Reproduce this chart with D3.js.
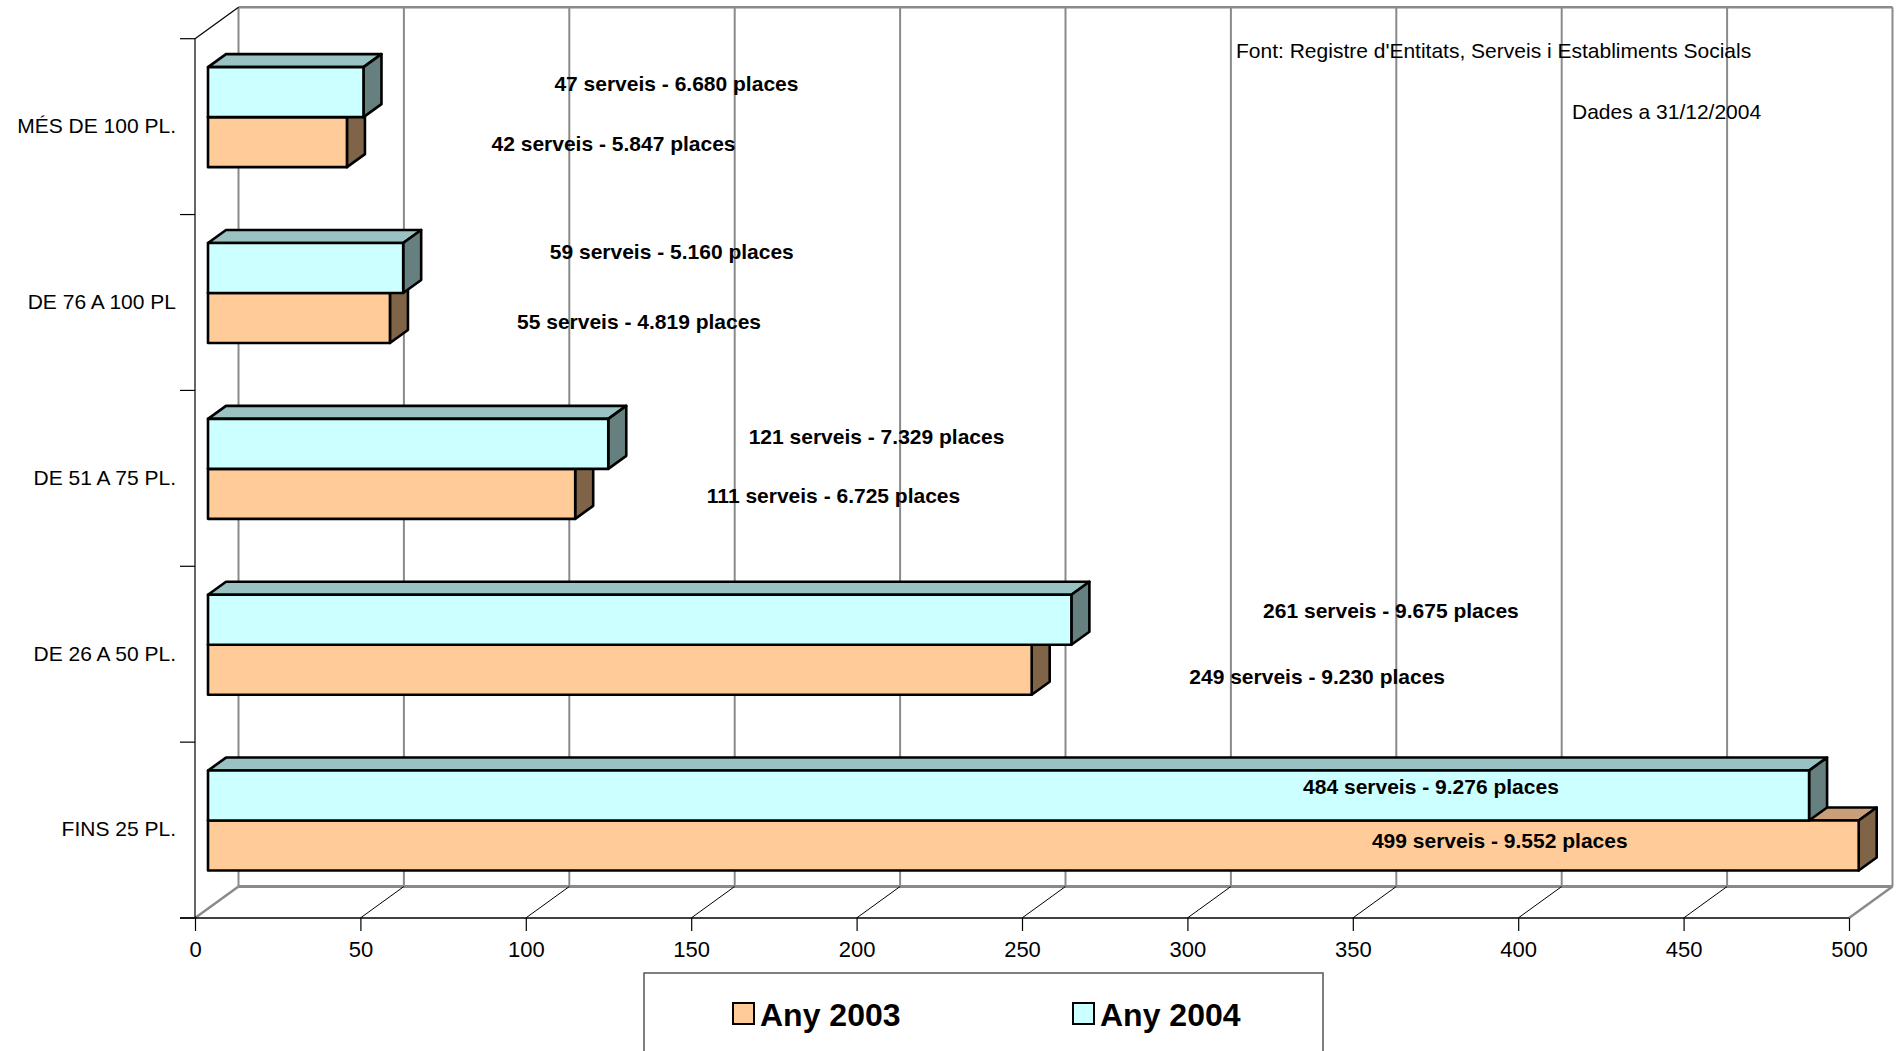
<!DOCTYPE html>
<html>
<head>
<meta charset="utf-8">
<script src="https://cdn.jsdelivr.net/npm/d3@7"></script>
<style>
html,body{margin:0;padding:0;background:#fff;}
svg{display:block;font-family:"Liberation Sans",Arial,sans-serif;}
</style>
</head>
<body>
<svg id="chart" width="1896" height="1051"></svg>
<script>
// ---- data ----
const categories = ["MÉS DE 100 PL.", "DE 76 A 100 PL", "DE 51 A 75 PL.", "DE 26 A 50 PL.", "FINS 25 PL."];
const series = ["Any 2003", "Any 2004"];
const serveis2003 = [42, 55, 111, 249, 499];
const serveis2004 = [47, 59, 121, 261, 484];
const places2003 = ["5.847", "4.819", "6.725", "9.230", "9.552"];
const places2004 = ["6.680", "5.160", "7.329", "9.675", "9.276"];
const xTicks = [0, 50, 100, 150, 200, 250, 300, 350, 400, 450, 500];
const sourceLines = ["Font: Registre d'Entitats, Serveis i Establiments Socials", "Dades a 31/12/2004"];

// label placement (annotation layout, value units along the axis / pixel nudge)
const labelAt2003 = [122.6, 130.3, 189.1, 335.3, 390.5];
const labelAt2004 = [141.6, 140.2, 202.1, 357.6, 369.7];
const labelDy2003 = [2, 3.5, 2, 7.4, -5.3];
const labelDy2004 = [-8.8, -16.6, -7.5, -9.2, -8.5];

// ---- layout ----
const svg = d3.select("#chart");
const x = d3.scaleLinear().domain([0, 500]).range([195, 1849]);
const y = d3.scaleBand().domain(categories).range([38.7, 918]).padding(0);
const D = {dx: 43.5, dy: -31.5};       // wall depth
const B = {dx: 13, dy: -9.5};          // bar front plane offset
const BD = {dx: 18, dy: -13};          // bar depth
const yBottom = 918, yTop = 38.7;
const sub = d3.scaleBand().domain(["Any 2004", "Any 2003"]).range([y.bandwidth()*0.2157, y.bandwidth()*0.7843]);

const col = {
  "Any 2003": {front: "#FFCC99", top: "#C89F78", side: "#806448"},
  "Any 2004": {front: "#CCFFFF", top: "#99C2C2", side: "#668080"}
};

const gray = "#8a8a8a";
// back wall
const wall = svg.append("g");
wall.selectAll("line.grid").data(xTicks).enter().append("line")
  .attr("x1", d => x(d) + D.dx).attr("x2", d => x(d) + D.dx)
  .attr("y1", yTop + D.dy).attr("y2", yBottom + D.dy)
  .attr("stroke", gray).attr("stroke-width", 2);
wall.append("line").attr("x1", x(0) + D.dx).attr("x2", x(500) + D.dx)
  .attr("y1", yTop + D.dy).attr("y2", yTop + D.dy).attr("stroke", gray).attr("stroke-width", 2.5);
wall.append("line").attr("x1", x(0) + D.dx).attr("x2", x(500) + D.dx)
  .attr("y1", yBottom + D.dy).attr("y2", yBottom + D.dy).attr("stroke", gray).attr("stroke-width", 3);
// floor side diagonals
wall.append("line").attr("x1", x(0)).attr("y1", yBottom).attr("x2", x(0) + D.dx).attr("y2", yBottom + D.dy)
  .attr("stroke", gray).attr("stroke-width", 2.5);
wall.append("line").attr("x1", x(500)).attr("y1", yBottom).attr("x2", x(500) + D.dx).attr("y2", yBottom + D.dy)
  .attr("stroke", gray).attr("stroke-width", 2.5);
// floor tick diagonals
wall.selectAll("line.fd").data(xTicks.slice(1, -1)).enter().append("line")
  .attr("x1", d => x(d)).attr("y1", yBottom).attr("x2", d => x(d) + D.dx).attr("y2", yBottom + D.dy)
  .attr("stroke", "#000").attr("stroke-width", 1);
// top-left diagonal
wall.append("line").attr("x1", x(0)).attr("y1", yTop).attr("x2", x(0) + D.dx).attr("y2", yTop + D.dy)
  .attr("stroke", "#000").attr("stroke-width", 1.2);

// front axes
const xAxis = d3.axisBottom(x).tickValues(xTicks).tickSize(13).tickPadding(10).tickFormat(d3.format("d"));
const gx = svg.append("g").attr("transform", `translate(0,${yBottom})`).call(xAxis);
gx.select(".domain").remove();
gx.selectAll(".tick line").attr("stroke", "#000").attr("stroke-width", 1.2);
gx.selectAll(".tick text").attr("font-size", 22).attr("fill", "#000").attr("font-family", "Liberation Sans, Arial, sans-serif");
svg.append("line").attr("x1", x(0) - 15).attr("x2", x(500)).attr("y1", yBottom).attr("y2", yBottom)
  .attr("stroke", "#000").attr("stroke-width", 1.5);

const yAxis = d3.axisLeft(y).tickSize(0).tickPadding(19);
const gy = svg.append("g").attr("transform", `translate(${x(0)},0)`).call(yAxis);
gy.select(".domain").remove();
gy.selectAll(".tick text").attr("font-size", 21).attr("fill", "#000").attr("font-family", "Liberation Sans, Arial, sans-serif").attr("dy", "0.3em");
svg.append("line").attr("x1", x(0)).attr("x2", x(0)).attr("y1", yTop).attr("y2", yBottom)
  .attr("stroke", "#000").attr("stroke-width", 1.2);
const bounds = categories.map(c => y(c)).concat([y(categories[categories.length - 1]) + y.step()]);
svg.selectAll("line.ctick").data(bounds).enter().append("line")
  .attr("x1", x(0) - 15).attr("x2", x(0)).attr("y1", d => d).attr("y2", d => d)
  .attr("stroke", "#000").attr("stroke-width", 1.2);

// bars
const rows = [];
categories.forEach((c, i) => {
  rows.push({cat: c, s: "Any 2003", v: serveis2003[i], p: places2003[i], lx: labelAt2003[i], ldy: labelDy2003[i]});
  rows.push({cat: c, s: "Any 2004", v: serveis2004[i], p: places2004[i], lx: labelAt2004[i], ldy: labelDy2004[i]});
});
const bars = svg.append("g");
rows.forEach(r => {
  const x0 = x(0) + B.dx, x1 = x(r.v) + B.dx;
  const y0 = y(r.cat) + sub(r.s) + B.dy, y1 = y0 + sub.bandwidth();
  const g = bars.append("g");
  const st = {stroke: "#000", "stroke-width": 2.6, "stroke-linejoin": "round"};
  const path = (pts, fill) => {
    const p = g.append("path").attr("d", "M" + pts.map(q => q.join(",")).join("L") + "Z").attr("fill", fill);
    Object.entries(st).forEach(([k, v]) => p.attr(k, v));
  };
  path([[x0, y0], [x0 + BD.dx, y0 + BD.dy], [x1 + BD.dx, y0 + BD.dy], [x1, y0]], col[r.s].top);
  path([[x1, y0], [x1 + BD.dx, y0 + BD.dy], [x1 + BD.dx, y1 + BD.dy], [x1, y1]], col[r.s].side);
  path([[x0, y0], [x1, y0], [x1, y1], [x0, y1]], col[r.s].front);
});

// labels
svg.append("g").selectAll("text").data(rows).enter().append("text")
  .attr("x", d => x(d.lx) + B.dx)
  .attr("y", d => y(d.cat) + sub(d.s) + B.dy + sub.bandwidth() / 2 + d.ldy)
  .attr("dy", "0.35em")
  .attr("text-anchor", "middle")
  .attr("font-size", 21).attr("font-weight", "bold").attr("fill", "#000")
  .text(d => `${d.v} serveis - ${d.p} places`);

// source text
svg.append("text").attr("x", 1236).attr("y", 51).attr("dy", "0.35em").attr("font-size", 21).text(sourceLines[0]);
svg.append("text").attr("x", 1572).attr("y", 112).attr("dy", "0.35em").attr("font-size", 21).text(sourceLines[1]);

// legend
const lg = svg.append("g");
lg.append("path").attr("d", "M644,1060L644,973L1323,973L1323,1060").attr("fill", "#fff")
  .attr("stroke", "#555").attr("stroke-width", 1.5);
const legX = [733, 1073];
series.forEach((s, i) => {
  lg.append("rect").attr("x", legX[i]).attr("y", 1003).attr("width", 21).attr("height", 21)
    .attr("fill", col[s].front).attr("stroke", "#000").attr("stroke-width", 2);
  lg.append("text").attr("x", legX[i] + 27).attr("y", 1014).attr("dy", "0.36em")
    .attr("font-size", 32).attr("font-weight", "bold").text(s);
});
</script>
</body>
</html>
